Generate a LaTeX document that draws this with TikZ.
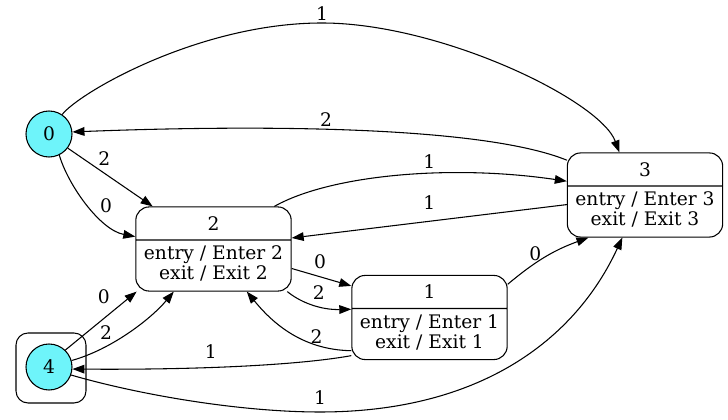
\documentclass[tikz,border=0pt]{standalone}
\usepackage{fontspec}
\setmainfont{DejaVu Serif}
\usetikzlibrary{arrows.meta,shapes.multipart}
\definecolor{stateCyan}{RGB}{110,244,250}
\newcommand{\hdr}[1]{\rule[-7pt]{0pt}{24pt}#1}
\newcommand{\acts}[1]{\rule{0pt}{14.25pt}entry / Enter #1\\\rule[-8.25pt]{0pt}{8.25pt}exit / Exit #1}

\begin{document}
\begin{tikzpicture}[x=0.75pt, y=0.75pt, every node/.style={font=\fontsize{14}{15}\selectfont}, >={Triangle[length=9pt,width=6.5pt]},
	circstate/.style={circle, draw, line width=0.8pt, fill=stateCyan, minimum size=34.5pt, inner sep=0pt},
	fsmstate/.style={rectangle split, rectangle split parts=2, draw, line width=0.8pt, rounded corners=10pt, align=center, minimum width=116.5pt, inner ysep=0pt, inner xsep=3pt},
	trans/.style={->, line width=0.8pt},
	lbl/.style={inner sep=1.5pt}]
	\useasboundingbox (0,0) rectangle (728,420);
	\node[circstate] (q0) at (49,286) {0};
	\node[draw, line width=0.8pt, rounded corners=9pt, minimum size=52.5pt] (q4box) at (51,52) {};
	\node[circstate] (q4) at (49,53) {4};
	\node[fsmstate] (s2) at (213.5,171) {\hdr{2}\nodepart{two}\acts{2}};
	\node[fsmstate] (s3) at (645,225) {\hdr{3}\nodepart{two}\acts{3}};
	\node[fsmstate] (s1) at (429.5,102.5) {\hdr{1}\nodepart{two}\acts{1}};
	\draw[trans] (q0.56) .. controls (80,328) and (200,397) .. (322,397) node[lbl, above] {1} .. controls (440,397) and (600,320) .. (s3.121);
	\draw[trans] (s3.156) .. controls (480,295) and (250,295) .. node[lbl, pos=0.55, above] {2} (q0.5);
	\draw[trans] (q0.-37) -- node[lbl, pos=0.43, above=4pt] {2} (s2.145);
	\draw[trans] (q0.-64) .. controls (68,235) and (100,190) .. node[lbl, pos=0.62, above right=0pt] {0} (s2.171);
	\draw[trans] (s2.35) .. controls (330,245) and (450,256) .. node[lbl, pos=0.6, above=2pt] {1} (s3.170);
	\draw[trans] (s3.187) -- node[lbl, pos=0.5, above=7pt] {1} (s2.8);
	\draw[trans] (s2.-14) -- node[lbl, pos=0.475, above=4pt] {0} (s1.158);
	\draw[trans] (s2.-30) .. controls (300,118) and (320,110) .. node[lbl, pos=0.6, above=3.5pt] {2} (s1.174);
	\draw[trans] (s1.203) .. controls (300,70) and (270,100) .. node[lbl, pos=0.25, above=-0.5pt] {2} (s2.-52);
	\draw[trans] (s1.23) to[bend left=10] node[lbl, pos=0.36, above] {0} (s3.217);
	\draw[trans] (s1.206) .. controls (300,55) and (200,50) .. node[lbl, pos=0.6, above=5pt] {1} (q4.-5);
	\draw[trans] (q4.-20) .. controls (140,25) and (240,8) .. (320,8) node[lbl, above=4pt] {1} .. controls (480,8) and (575,80) .. (s3.242);
	\draw[trans] (q4.46) -- node[lbl, pos=0.54, above=9pt] {0} (s2.209);
	\draw[trans] (q4.16) .. controls (110,70) and (150,100) .. node[lbl, pos=0.3, above=3.5pt] {2} (s2.227);
\end{tikzpicture}
\end{document}
